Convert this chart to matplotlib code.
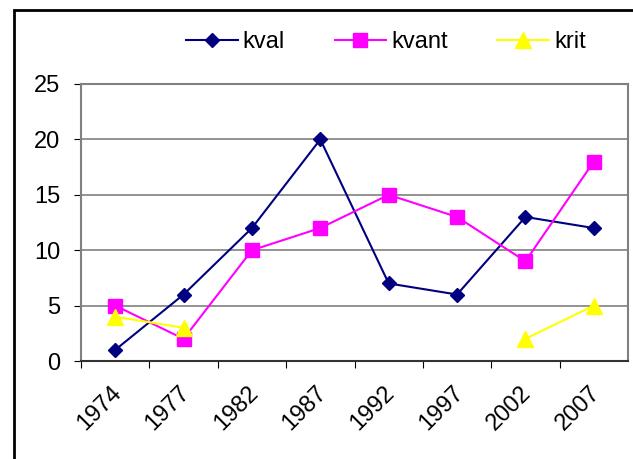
import numpy as np
import matplotlib.pyplot as plt
import matplotlib.transforms as mtransforms
from matplotlib.patches import Rectangle

plt.rcParams['font.family'] = ['Liberation Sans', 'DejaVu Sans']

years = ['1974', '1977', '1982', '1987', '1992', '1997', '2002', '2007']
kval = [1, 6, 12, 20, 7, 6, 13, 12]
kvant = [5, 2, 10, 12, 15, 13, 9, 18]
krit = [4, 3, np.nan, np.nan, np.nan, np.nan, 2, 5]

fig = plt.figure(figsize=(6.33, 4.59), dpi=100)
# outer chart border (only left and top visible in the crop)
fig.add_artist(Rectangle((14 / 633, -0.1), 1.2, (459 - 10) / 459 + 0.1,
                         transform=fig.transFigure, fill=False,
                         edgecolor='black', linewidth=2))

ax = fig.add_axes([81 / 633, (459 - 361) / 459, (628 - 81) / 633, (361 - 84) / 459])
x = np.arange(len(years))

ax.plot(x, kval, color='#000080', marker='D', markersize=7.5, linewidth=1.5, label='kval')
ax.plot(x, kvant, color='#FF00FF', marker='s', markersize=10.5, linewidth=1.5, label='kvant')
ax.plot(x, krit, color='#FFFF00', marker='^', markersize=11.5, linewidth=1.5, label='krit')

ax.set_xlim(-0.5, len(years) - 0.5)
ax.set_ylim(0, 25)
ax.set_yticks(range(0, 26, 5))
ax.yaxis.grid(True, color='#808080', linewidth=1.2)
ax.set_axisbelow(True)

ax.set_xticks(x - 0.5, minor=False)
ax.set_xticklabels([])
ax.set_xticks(x, minor=True)
ax.set_xticklabels(years, minor=True, rotation=45, ha='right', va='top',
                   rotation_mode='anchor', fontsize=17)
ax.tick_params(axis='x', which='minor', length=0, pad=13)
ax.tick_params(axis='x', which='major', length=5, direction='out')
ax.tick_params(axis='y', length=5, direction='out', labelsize=17, pad=10)

# nudge the rotated year labels slightly left/down
shift = mtransforms.ScaledTranslation(-5 / 100, -3 / 100, fig.dpi_scale_trans)
for lab in ax.get_xticklabels(minor=True):
    lab.set_transform(lab.get_transform() + shift)

for side in ['top', 'right', 'left']:
    ax.spines[side].set_color('#808080')
    ax.spines[side].set_linewidth(1.5)
ax.spines['bottom'].set_color('#333333')
ax.spines['bottom'].set_linewidth(1.5)

fig.legend(loc='center left', bbox_to_anchor=(186 / 633, 1 - 42 / 459), ncol=3,
           frameon=False, fontsize=17, handlelength=2.2, handletextpad=0.2,
           columnspacing=2.1, borderpad=0, borderaxespad=0)

plt.savefig('out.png', dpi=100)
